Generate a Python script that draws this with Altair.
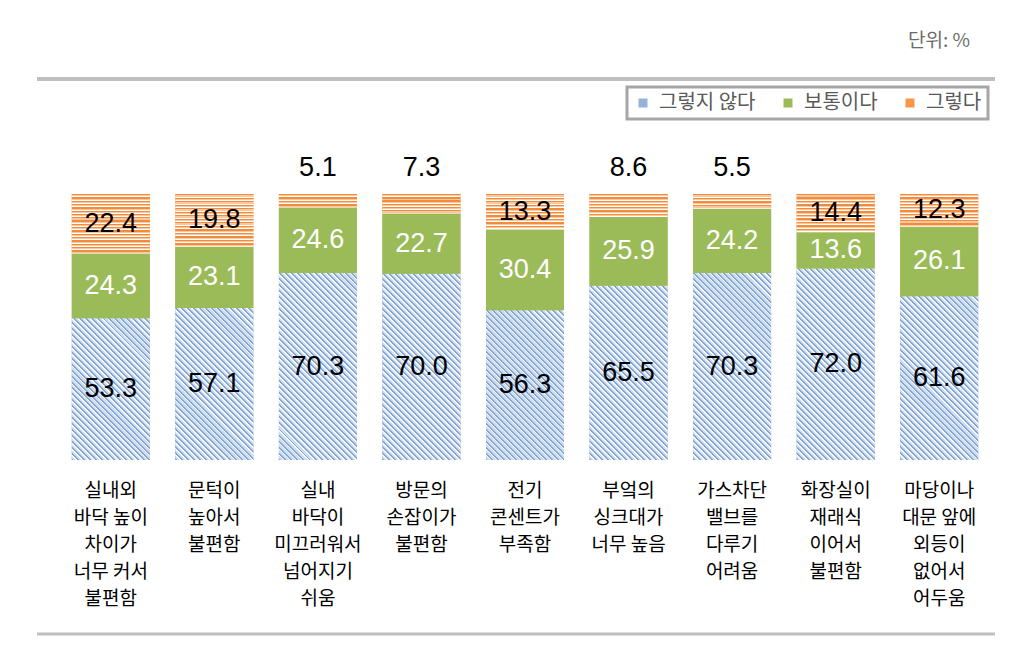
import altair as alt

# ---- data ----
categories = [
    "실내외|바닥 높이|차이가|너무 커서|불편함",
    "문턱이|높아서|불편함",
    "실내|바닥이|미끄러워서|넘어지기|쉬움",
    "방문의|손잡이가|불편함",
    "전기|콘센트가|부족함",
    "부엌의|싱크대가|너무 높음",
    "가스차단|밸브를|다루기|어려움",
    "화장실이|재래식|이어서|불편함",
    "마당이나|대문 앞에|외등이|없어서|어두움",
]
series = ["그렇지 않다", "보통이다", "그렇다"]
no_vals = [53.3, 57.1, 70.3, 70.0, 56.3, 65.5, 70.3, 72.0, 61.6]
mid_vals = [24.3, 23.1, 24.6, 22.7, 30.4, 25.9, 24.2, 13.6, 26.1]
yes_vals = [22.4, 19.8, 5.1, 7.3, 13.3, 8.6, 5.5, 14.4, 12.3]

# ---- style ----
PLOT_W, PLOT_H = 932, 266
BAR_W = 78
PX_PER_UNIT = PLOT_H / 100.0
solid = {"그렇지 않다": "#95B3D7", "보통이다": "#9BBB59", "그렇다": "#F79646"}


def orange_stripes(h):
    n = max(1, round(h / 3.4))
    stops = []
    for i in range(n):
        a = i / n
        b = (i + 0.40) / n
        c = (i + 0.72) / n
        d = (i + 1) / n
        stops += [
            {"offset": a, "color": "#F38B3C"}, {"offset": b, "color": "#F38B3C"},
            {"offset": b, "color": "#FBC79E"}, {"offset": c, "color": "#FBC79E"},
            {"offset": c, "color": "#FFFFFF"}, {"offset": d, "color": "#FFFFFF"},
        ]
    return {"gradient": "linear", "x1": 0, "y1": 0, "x2": 0, "y2": 1, "stops": stops}


def blue_hatch(w, h):
    period = 6.0
    n = max(1, round((w + h) / period))
    k = (w + h) / (w * w + h * h)
    stops = []
    for i in range(n):
        a = i / n
        b = (i + 0.33) / n
        c = (i + 0.70) / n
        d = (i + 1) / n
        stops += [
            {"offset": a, "color": "#86A5D3"}, {"offset": b, "color": "#86A5D3"},
            {"offset": b, "color": "#CCDDF2"}, {"offset": c, "color": "#CCDDF2"},
            {"offset": c, "color": "#F7FAFD"}, {"offset": d, "color": "#F7FAFD"},
        ]
    return {"gradient": "linear", "x1": 0, "y1": 1, "x2": w * k, "y2": 1 - h * k,
            "stops": stops}


records = []
for i, cat in enumerate(categories):
    vals = [no_vals[i], mid_vals[i], yes_vals[i]]
    base = 0.0
    for s, v in zip(series, vals):
        h = v * PX_PER_UNIT
        if s == "그렇지 않다":
            fill = blue_hatch(BAR_W, h)
        elif s == "그렇다":
            fill = orange_stripes(h)
        else:
            fill = "#9BBB59"
        records.append({
            "category": cat, "series": s, "value": v,
            "y0": base, "y1": base + v, "mid": base + v / 2,
            "label": f"{v:.1f}", "fill": fill,
            "small": bool(s == "그렇다" and v < 10),
        })
        base += v

data = alt.Data(values=records)

x_enc = alt.X(
    "category:N", sort=categories, title=None,
    scale=alt.Scale(paddingInner=0, paddingOuter=0),
    axis=alt.Axis(
        labelExpr="split(datum.label, '|')", labelAngle=0, domain=False, ticks=False,
        labelFontSize=19, labelLineHeight=27, labelColor="#000000",
        labelFont="Noto Sans CJK KR", labelPadding=21, labelBaseline="top",
        grid=False,
    ),
)
y_scale = alt.Scale(domain=[0, 100], nice=False, zero=True)

base_bars = alt.Chart(data).mark_bar(width=BAR_W).encode(
    x=x_enc,
    y=alt.Y("y0:Q", scale=y_scale, axis=None),
    y2="y1:Q",
    color=alt.Color(
        "series:N",
        scale=alt.Scale(domain=series, range=[solid[s] for s in series]),
        legend=alt.Legend(
            title=None, orient="none", legendX=568, legendY=-107, direction="horizontal",
            symbolType="square", symbolSize=81, symbolStrokeWidth=0,
            labelFontSize=20, labelColor="#595959", labelFont="Noto Sans CJK KR",
            labelOffset=6, columnPadding=22, padding=6, strokeColor="#A6A6A6",
            fillColor="#FFFFFF",
        ),
    ),
    order=alt.Order("y0:Q"),
)

pattern_bars = alt.Chart(data).mark_bar(width=BAR_W, strokeWidth=0).encode(
    x=alt.X("category:N", sort=categories),
    y=alt.Y("y0:Q", scale=y_scale),
    y2="y1:Q",
    fill=alt.Fill("fill:N", scale=None),
)

label_inside = alt.Chart(data).mark_text(
    font="Liberation Sans", fontSize=27, baseline="middle", align="center"
).encode(
    x=alt.X("category:N", sort=categories),
    y=alt.Y("mid:Q", scale=y_scale),
    text="label:N",
    color=alt.condition("datum.series == '보통이다'", alt.value("#FFFFFF"), alt.value("#000000")),
).transform_filter("!datum.small")

label_above = alt.Chart(data).mark_text(
    font="Liberation Sans", fontSize=27, baseline="middle", align="center", dy=-26
).encode(
    x=alt.X("category:N", sort=categories),
    y=alt.Y("y1:Q", scale=y_scale),
    text="label:N",
    color=alt.value("#000000"),
).transform_filter("datum.small")

one = alt.Data(values=[{"k": 1}])
top_rule = alt.Chart(one).mark_rule(color="#BFBFBF", strokeWidth=4).encode(
    x=alt.value(-22), x2=alt.value(936), y=alt.value(-115)
)
bottom_rule = alt.Chart(one).mark_rule(color="#BFBFBF", strokeWidth=3).encode(
    x=alt.value(-22), x2=alt.value(936), y=alt.value(440)
)
unit_text = alt.Chart(one).mark_text(
    text="단위: %", font="Noto Sans CJK KR", fontSize=19, color="#6B6B6B",
    align="right", baseline="middle"
).encode(x=alt.value(911), y=alt.value(-153))

chart = alt.layer(
    base_bars, pattern_bars, label_inside, label_above, top_rule, bottom_rule, unit_text
).properties(
    width=PLOT_W, height=PLOT_H,
    autosize=alt.AutoSizeParams(type="none"),
    padding={"left": 51, "top": 186, "right": 24, "bottom": 180},
).configure_view(stroke=None).configure_legend(strokeWidth=3)

chart.save("out.html", embed_options={"renderer": "svg", "actions": False})
